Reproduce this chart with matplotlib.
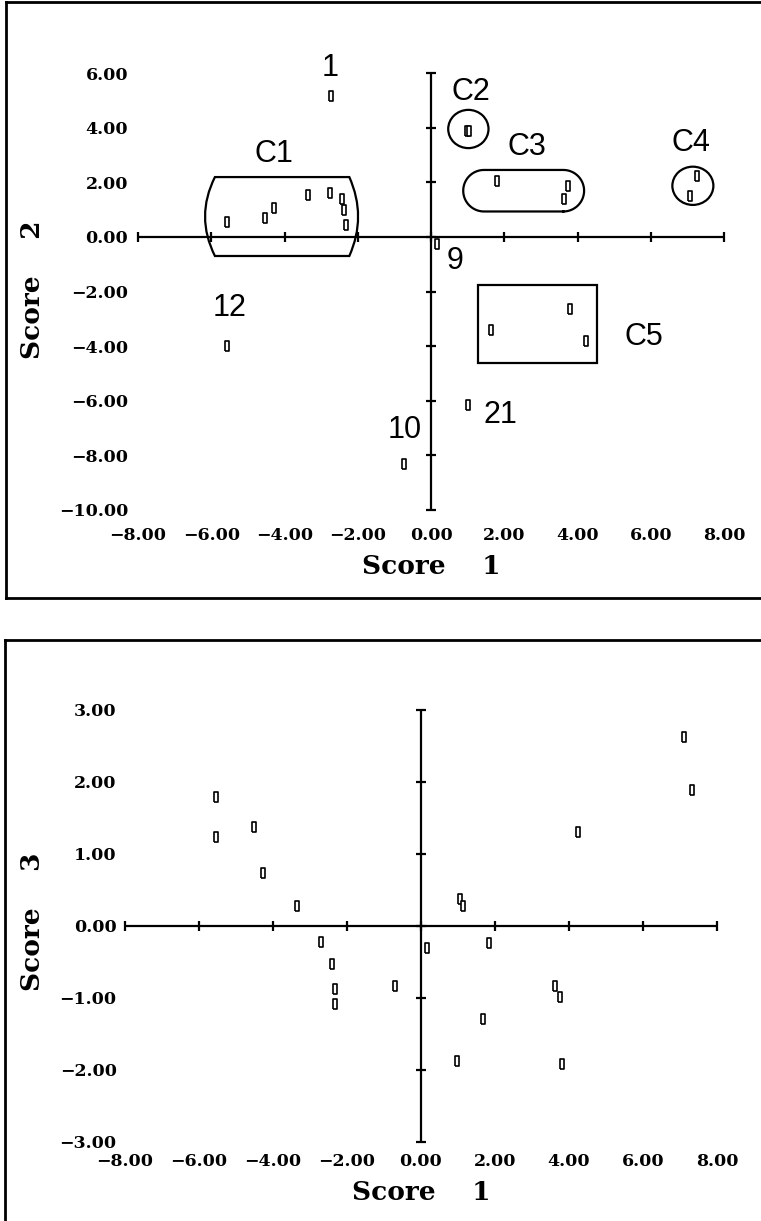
"""
Score plots: Score 1 vs Score 2 (with cluster outlines) and Score 1 vs Score 3
"""

import numpy as np
import matplotlib
matplotlib.use("Agg")
import matplotlib.pyplot as plt
from matplotlib.patches import Ellipse, Rectangle, PathPatch
from matplotlib.path import Path
from matplotlib.lines import Line2D

# Score 1 vs Score 2
score1_top = [-2.72, 0.98, 1.05, -5.57, -4.53, -4.28, -3.37, -2.75, -2.43, -2.37, -2.33,
              1.80, 3.75, 3.62, 7.26, 7.06, 0.16, 1.63, 3.80, 4.22, -5.57, 1.02, -0.73]
score2 = [5.17, 3.86, 3.88, 0.54, 0.68, 1.05, 1.53, 1.60, 1.38, 0.99, 0.43,
          2.03, 1.87, 1.38, 2.23, 1.50, -0.27, -3.41, -2.65, -3.81, -3.98, -6.15, -8.30]

# Score 1 vs Score 3
score1_bottom = [-5.53, -5.54, -4.52, -4.28, -3.35, -2.70, -2.41, -2.32, -2.32, -0.70, 0.15,
                 1.06, 1.13, 1.83, 1.67, 0.98, 3.63, 3.77, 3.81, 4.23, 7.10, 7.33]
score3 = [1.79, 1.24, 1.38, 0.73, 0.28, -0.22, -0.53, -0.87, -1.09, -0.84, -0.31,
          0.38, 0.28, -0.24, -1.29, -1.88, -0.83, -0.98, -1.91, 1.30, 2.63, 1.89]

# labels in the top plot
label_texts = ["1", "C1", "C2", "C3", "C4", "C5", "9", "12", "21", "10"]
label_x = [-2.75, -4.28, 1.10, 2.61, 7.10, 5.82, 0.66, -5.49, 1.89, -0.73]
label_y = [6.17, 3.02, 5.30, 3.28, 3.43, -3.65, -0.87, -2.61, -6.52, -7.07]

# cluster outlines (left, right, bottom, top) / (cx, cy, width, height)
c1_box = [-5.90, -2.23, -0.70, 2.19]
c1_bulge = [-6.17, -1.99]
c2_circle = [1.02, 3.95, 1.10, 1.40]
c3_box = [0.88, 4.18, 0.93, 2.45]
c4_circle = [7.15, 1.87, 1.12, 1.40]
c5_box = [1.27, 4.54, -4.60, -1.76]

x_ticks = np.arange(-8, 9, 2)
y_ticks_top = np.arange(-10, 7, 2)
y_ticks_bottom = np.arange(-3, 4, 1)

W, H = 761, 1221
SERIF = "DejaVu Serif"
SANS = "Liberation Sans"
rect_marker = [(-0.5, -1), (0.5, -1), (0.5, 1), (-0.5, 1), (-0.5, -1)]


def fmt(v):
    return f"{v:.2f}".replace("-", "\u2212")


def draw_panel(ax, x, y, yticks, xpad, ypad):
    ax.set_xlim(x_ticks[0], x_ticks[-1])
    ax.set_ylim(yticks[0], yticks[-1])
    for s in ax.spines.values():
        s.set_visible(False)
    ax.set_xticks(x_ticks)
    ax.set_xticklabels([fmt(v) for v in x_ticks])
    ax.set_yticks(yticks)
    ax.set_yticklabels([fmt(v) for v in yticks])
    ax.tick_params(axis="x", length=0, pad=xpad)
    ax.tick_params(axis="y", length=0, pad=ypad)
    for lab in ax.get_xticklabels() + ax.get_yticklabels():
        lab.set_fontfamily(SERIF)
        lab.set_fontweight("bold")
        lab.set_fontsize(12.5)

    # axes through the origin with cross ticks
    ax.axhline(0, color="black", lw=1.6)
    ax.axvline(0, color="black", lw=1.6)
    ax.plot(x_ticks, np.zeros(len(x_ticks)), ls="none", marker="|", ms=7,
            mew=1.6, color="black", clip_on=False)
    ax.plot(np.zeros(len(yticks)), yticks, ls="none", marker="_", ms=7,
            mew=1.6, color="black", clip_on=False)

    ax.plot(x, y, ls="none", marker=rect_marker, ms=6.5, mfc="white",
            mec="black", mew=1.2, clip_on=False, zorder=5)


fig = plt.figure(figsize=(W / 100, H / 100), dpi=100)
fig.patch.set_facecolor("white")

ax1 = fig.add_axes([138 / W, 1 - 510 / H, 586 / W, 437 / H])
ax2 = fig.add_axes([125 / W, 1 - 1142 / H, 592 / W, 432 / H])

draw_panel(ax1, score1_top, score2, y_ticks_top, 12, 7)
draw_panel(ax2, score1_bottom, score3, y_ticks_bottom, 8, 6)

# cluster C1: flat top/bottom, bowed sides
l, r, b, t = c1_box
mid = (b + t) / 2
verts = [(l, t), (r, t), (2 * c1_bulge[1] - r, mid), (r, b), (l, b),
         (2 * c1_bulge[0] - l, mid), (l, t), (l, t)]
codes = [Path.MOVETO, Path.LINETO, Path.CURVE3, Path.CURVE3, Path.LINETO,
         Path.CURVE3, Path.CURVE3, Path.CLOSEPOLY]
ax1.add_patch(PathPatch(Path(verts, codes), fill=False, lw=1.6, ec="black"))

# clusters C2, C4: circles
for cx, cy, w, h in [c2_circle, c4_circle]:
    ax1.add_patch(Ellipse((cx, cy), w, h, fill=False, lw=1.6, ec="black"))

# cluster C3: rounded-end box
l, r, b, t = c3_box
bbox = ax1.get_position()
ppu_x = bbox.width * W / (x_ticks[-1] - x_ticks[0])
ppu_y = bbox.height * H / (y_ticks_top[-1] - y_ticks_top[0])
ry = (t - b) / 2
rx = ry * ppu_y / ppu_x
cy = (b + t) / 2
th = np.linspace(-np.pi / 2, np.pi / 2, 40)
right_x = r - rx + rx * np.cos(th)
right_y = cy + ry * np.sin(th)
left_x = l + rx - rx * np.cos(th)
left_y = cy - ry * np.sin(th)
px = np.concatenate([right_x, left_x, right_x[:1]])
py = np.concatenate([right_y, left_y, right_y[:1]])
ax1.plot(px, py, color="black", lw=1.6)

# cluster C5: rectangle
l, r, b, t = c5_box
ax1.add_patch(Rectangle((l, b), r - l, t - b, fill=False, lw=1.6, ec="black"))

# point / cluster labels
for txt, lx, ly in zip(label_texts, label_x, label_y):
    ax1.text(lx, ly, txt, ha="center", va="center", fontsize=22,
             fontfamily=SANS, clip_on=False)

# axis titles
fig.text(431 / W, 1 - 567 / H, "Score    1", ha="center", va="center",
         fontfamily=SERIF, fontweight="bold", fontsize=19)
fig.text(421 / W, 1 - 1192 / H, "Score    1", ha="center", va="center",
         fontfamily=SERIF, fontweight="bold", fontsize=19)
fig.text(33 / W, 1 - 290 / H, "Score    2", ha="center", va="center",
         rotation=90, fontfamily=SERIF, fontweight="bold", fontsize=19)
fig.text(33 / W, 1 - 922 / H, "Score    3", ha="center", va="center",
         rotation=90, fontfamily=SERIF, fontweight="bold", fontsize=19)

# panel frames
tf = fig.transFigure
frame = dict(color="black", lw=2, transform=tf)
fig.add_artist(Line2D([6 / W, 1], [1 - 2 / H, 1 - 2 / H], **frame))
fig.add_artist(Line2D([6 / W, 6 / W], [1 - 2 / H, 1 - 598 / H], **frame))
fig.add_artist(Line2D([6 / W, 1], [1 - 598 / H, 1 - 598 / H], **frame))
fig.add_artist(Line2D([5 / W, 1], [1 - 640 / H, 1 - 640 / H], **frame))
fig.add_artist(Line2D([5 / W, 5 / W], [1 - 640 / H, 0], **frame))

fig.savefig("out.png", dpi=100, facecolor="white")
